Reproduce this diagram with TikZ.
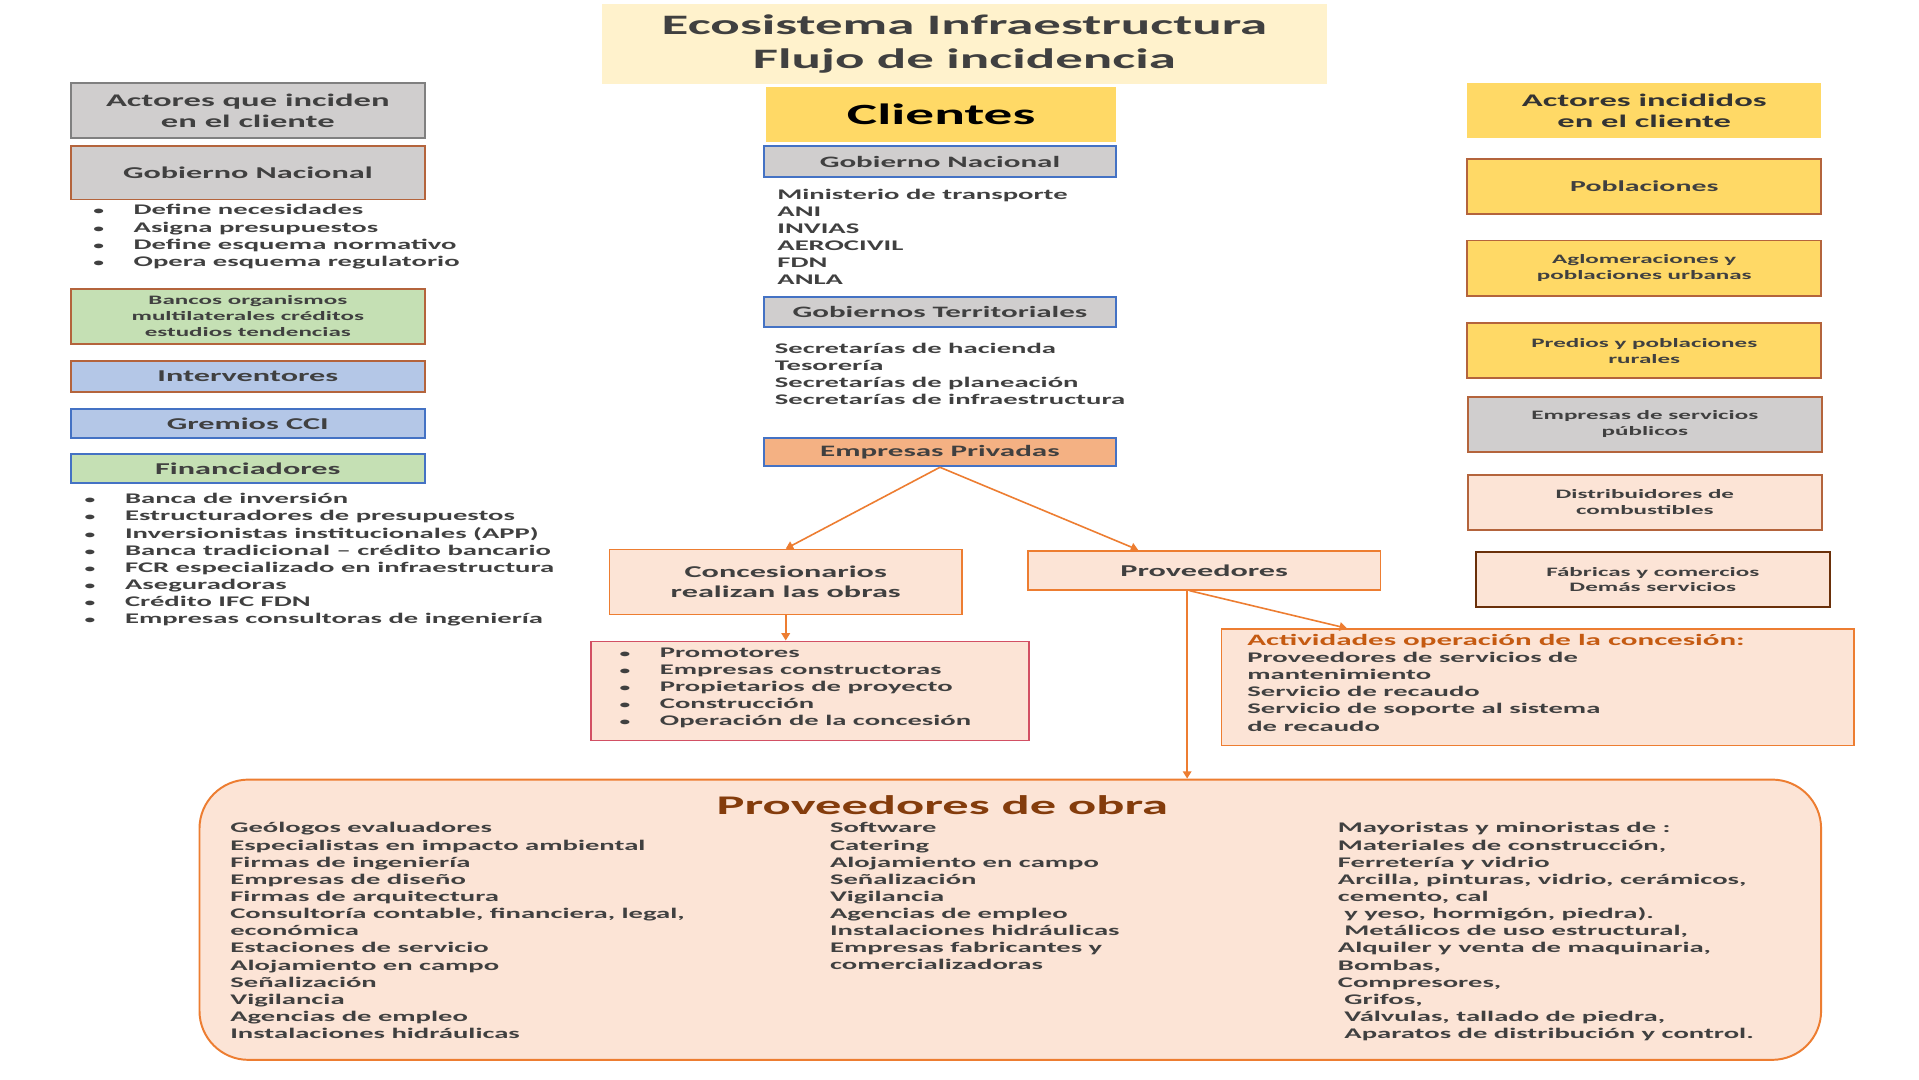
\documentclass[tikz,border=0pt]{standalone}
\usepackage{fontspec}
\setmainfont{Carlito}[FakeStretch=1.95]
\usetikzlibrary{arrows.meta, positioning}
\definecolor{txt}{RGB}{64,64,64}
\definecolor{cream}{RGB}{255,242,204}
\definecolor{gold}{RGB}{255,217,102}
\definecolor{greyf}{RGB}{208,206,206}
\definecolor{blueb}{RGB}{68,114,196}
\definecolor{bluef}{RGB}{180,199,231}
\definecolor{greenf}{RGB}{197,224,180}
\definecolor{brownb}{RGB}{180,100,60}
\definecolor{orangeb}{RGB}{237,125,49}
\definecolor{orangef}{RGB}{244,177,131}
\definecolor{peach}{RGB}{252,228,214}
\definecolor{redb}{RGB}{210,80,100}
\definecolor{rust}{RGB}{197,90,17}
\definecolor{darkrust}{RGB}{132,60,12}
\tikzset{
    box/.style={rectangle, inner sep=0pt, align=center, text=txt, font=\bfseries\fontsize{13}{14}\selectfont, line width=1.6pt},
    leftbox/.style={box, minimum width=289pt},
    rightbox/.style={box, minimum width=289pt, minimum height=45pt, draw=brownb, font=\bfseries\fontsize{10.5}{13}\selectfont},
    midbox/.style={box, minimum width=288pt, draw=blueb},
    flowbox/.style={box, draw=orangeb, fill=peach, line width=1.3pt},
    list/.style={anchor=north west, align=left, text=txt, inner sep=0pt, font=\bfseries\fontsize{12}{14}\selectfont},
    flow/.style={orangeb, line width=1.3pt, -{Triangle[width=7pt,length=6pt]}}
}
\newcommand{\bul}{\makebox[33pt][l]{\small\textbullet}}
\begin{document}
\begin{tikzpicture}[x=1pt,y=-1pt]
    \useasboundingbox[fill=white] (0,0) rectangle (1568,882);

    % Title and clients
    \node[box, fill=cream, minimum width=592pt, minimum height=66pt, font=\bfseries\fontsize{23}{28}\selectfont] (title) at (788,36) {Ecosistema Infraestructura\\Flujo de incidencia};
    \node[box, fill=gold, minimum width=286pt, minimum height=45pt, text=black, font=\bfseries\fontsize{24}{30}\selectfont] (clientes) at (769,93.5) {Clientes};

    % Left column
    \node[leftbox, minimum height=45pt, fill=greyf, draw=gray, font=\bfseries\fontsize{14.5}{17}\selectfont] (actin) at (202.5,90.5) {Actores que inciden\\en el cliente};
    \node[leftbox, minimum height=44pt, fill=greyf, draw=brownb, font=\bfseries\fontsize{13.5}{16}\selectfont] (gobnl) at (202.5,141) {Gobierno Nacional};
    \node[list] (gobnllist) at (76,167) {\bul Define necesidades\\\bul Asigna presupuestos\\\bul Define esquema normativo\\\bul Opera esquema regulatorio};
    \node[leftbox, minimum height=45pt, fill=greenf, draw=brownb, font=\bfseries\fontsize{10.5}{13}\selectfont] (bancos) at (202.5,258.5) {Bancos organismos\\multilaterales créditos\\estudios tendencias};
    \node[leftbox, minimum height=25pt, fill=bluef, draw=brownb, font=\bfseries\fontsize{13.5}{16}\selectfont] (interv) at (202.5,307.5) {Interventores};
    \node[leftbox, minimum height=24pt, fill=bluef, draw=blueb, font=\bfseries\fontsize{13.5}{16}\selectfont] (gremios) at (202.5,346) {Gremios CCI};
    \node[leftbox, minimum height=24pt, fill=greenf, draw=blueb, font=\bfseries\fontsize{13.5}{16}\selectfont] (financ) at (202.5,383) {Financiadores};
    \node[list] (financlist) at (69,403) {\bul Banca de inversión\\\bul Estructuradores de presupuestos\\\bul Inversionistas institucionales (APP)\\\bul Banca tradicional -- crédito bancario\\\bul FCR especializado en infraestructura\\\bul Aseguradoras\\\bul Crédito IFC FDN\\\bul Empresas consultoras de ingeniería};

    % Center column
    \node[midbox, minimum height=26pt, fill=greyf] (gobnc) at (768,132) {Gobierno Nacional};
    \node[list] (gobnclist) at (635,154) {Ministerio de transporte\\ANI\\INVIAS\\AEROCIVIL\\FDN\\ANLA};
    \node[midbox, minimum height=24pt, fill=greyf] (gobterr) at (768,255) {Gobiernos Territoriales};
    \node[list] (gobterrlist) at (633,280) {Secretarías de hacienda\\Tesorería\\Secretarías de planeación\\Secretarías de infraestructura};
    \node[midbox, minimum height=23pt, fill=orangef] (privadas) at (768,369.5) {Empresas Privadas};
    \node[flowbox, minimum width=288pt, minimum height=53pt, font=\bfseries\fontsize{13.5}{16}\selectfont] (concesion) at (642,475.5) {Concesionarios\\realizan las obras};
    \node[flowbox, minimum width=288pt, minimum height=32pt, font=\bfseries\fontsize{13.5}{16}\selectfont] (proveedores) at (984,466) {Proveedores};
    \node[box, draw=redb, fill=peach, line width=1.3pt, minimum width=358pt, minimum height=81pt] (promot) at (662,564.5) {};
    \node[list] (promotlist) at (506,529) {\bul Promotores\\\bul Empresas constructoras\\\bul Propietarios de proyecto\\\bul Construcción\\\bul Operación de la concesión};
    \node[flowbox, minimum width=517pt, minimum height=95pt] (activ) at (1256.5,561.5) {};
    \node[list] (activlist) at (1019,518) {\textcolor{rust}{\fontsize{13}{14}\selectfont Actividades operación de la concesión:}\\Proveedores de servicios de\\mantenimiento\\Servicio de recaudo\\Servicio de soporte al sistema\\de recaudo};

    % Right column
    \node[box, fill=gold, minimum width=289pt, minimum height=45pt, text=black!80, font=\bfseries\fontsize{14.5}{17}\selectfont] (actid) at (1343.5,90.5) {Actores incididos\\en el cliente};
    \node[rightbox, fill=gold, font=\bfseries\fontsize{12.5}{15}\selectfont] (poblac) at (1343.5,152.5) {Poblaciones};
    \node[rightbox, fill=gold] (aglom) at (1343.5,219) {Aglomeraciones y\\poblaciones urbanas};
    \node[rightbox, fill=gold] (predios) at (1343.5,286.5) {Predios y poblaciones\\rurales};
    \node[rightbox, fill=greyf] (servpub) at (1344,346.5) {Empresas de servicios\\públicos};
    \node[rightbox, fill=peach] (distrib) at (1344,410.5) {Distribuidores de\\combustibles};
    \node[rightbox, fill=peach, draw=darkrust!80!black] (fabricas) at (1350.5,473.5) {Fábricas y comercios\\Demás servicios};

    % Proveedores de obra
    \node[box, draw=orangeb, fill=peach, rounded corners=40pt, minimum width=1325pt, minimum height=229pt] (obra) at (825.5,751.5) {};
    \node[box, text=darkrust, font=\bfseries\fontsize{22}{26}\selectfont] (obratitle) at (770,658) {Proveedores de obra};
    \node[list] (obraA) at (188,672) {Geólogos evaluadores\\Especialistas en impacto ambiental\\Firmas de ingeniería\\Empresas de diseño\\Firmas de arquitectura\\Consultoría contable, financiera, legal,\\económica\\Estaciones de servicio\\Alojamiento en campo\\Señalización\\Vigilancia\\Agencias de empleo\\Instalaciones hidráulicas};
    \node[list] (obraB) at (678,672) {Software\\Catering\\Alojamiento en campo\\Señalización\\Vigilancia\\Agencias de empleo\\Instalaciones hidráulicas\\Empresas fabricantes y\\comercializadoras};
    \node[list] (obraC) at (1093,672) {Mayoristas y minoristas de :\\Materiales de construcción,\\Ferretería y vidrio\\Arcilla, pinturas, vidrio, cerámicos,\\cemento, cal\\\ y yeso, hormigón, piedra).\\\ Metálicos de uso estructural,\\Alquiler y venta de maquinaria,\\Bombas,\\Compresores,\\\ Grifos,\\\ Válvulas, tallado de piedra,\\\ Aparatos de distribución y control.};

    % Arrows
    \draw[flow] (privadas.south) -- (concesion.north);
    \draw[flow] (privadas.south) -- ([xshift=-54pt]proveedores.north);
    \draw[flow] (concesion.south) -- (promot.north -| concesion.south);
    \draw[flow] ([xshift=-12pt]proveedores.south) -- ([xshift=-156pt]activ.north);
    \draw[flow] ([xshift=-14pt]proveedores.south) -- ([xshift=-14pt]proveedores.south |- obra.north);
\end{tikzpicture}
\end{document}
